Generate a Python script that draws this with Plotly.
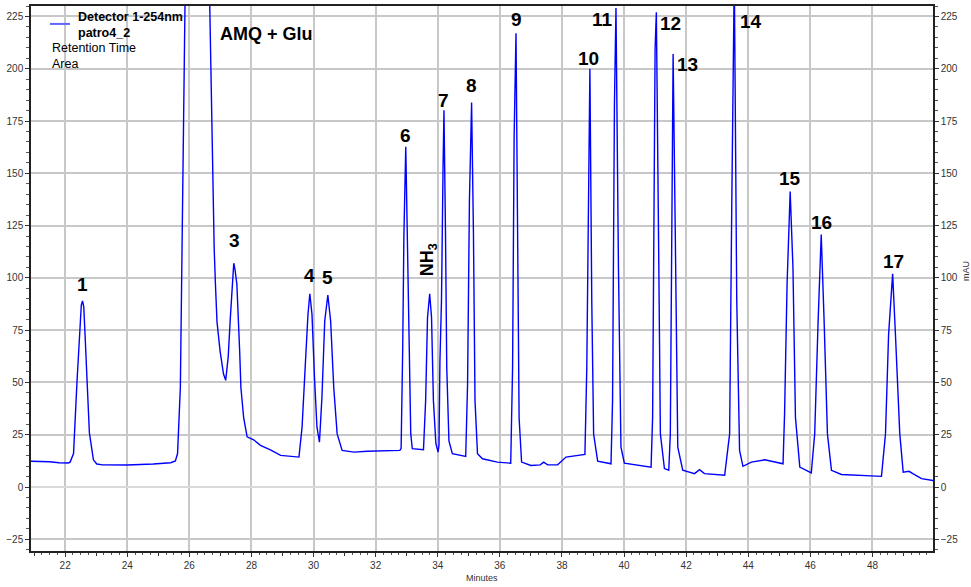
import plotly.graph_objects as go

# Chromatogram trace (minutes, mAU)
time_min = [20.90, 21.50, 21.80, 22.10, 22.16, 22.27, 22.38, 22.46, 22.52, 22.56, 22.60, 22.64, 22.70, 22.78, 22.91,
            23.02, 23.20, 24.00, 24.84, 25.40, 25.55, 25.62, 25.71, 25.80, 25.84, 25.90, 26.10, 26.40, 26.62, 26.71,
            26.76, 26.80, 26.84, 26.89, 26.99, 27.10, 27.17, 27.25, 27.32, 27.40, 27.43, 27.47, 27.53, 27.62, 27.66,
            27.75, 27.86, 28.07, 28.29, 28.61, 28.94, 29.53, 29.63, 29.74, 29.82, 29.88, 29.95, 30.03, 30.11, 30.19,
            30.27, 30.36, 30.46, 30.55, 30.65, 30.76, 30.92, 31.30, 31.73, 32.78, 32.82, 32.87, 32.91, 32.97, 33.02,
            33.08, 33.13, 33.18, 33.54, 33.61, 33.67, 33.74, 33.80, 33.86, 33.94, 34.01, 34.04, 34.07, 34.12, 34.17,
            34.20, 34.25, 34.29, 34.36, 34.47, 34.90, 34.96, 35.02, 35.09, 35.15, 35.20, 35.28, 35.44, 35.92, 36.35,
            36.41, 36.46, 36.52, 36.57, 36.62, 36.70, 37.00, 37.30, 37.41, 37.54, 37.86, 38.13, 38.61, 38.74, 38.80,
            38.87, 38.90, 38.96, 39.02, 39.15, 39.58, 39.63, 39.69, 39.74, 39.82, 39.90, 40.01, 40.87, 40.92, 41.00,
            41.04, 41.11, 41.17, 41.30, 41.44, 41.49, 41.53, 41.58, 41.65, 41.73, 41.89, 42.27, 42.43, 42.59, 43.24,
            43.40, 43.47, 43.55, 43.63, 43.72, 43.83, 44.10, 44.53, 44.90, 45.12, 45.17, 45.25, 45.35, 45.44, 45.52,
            45.66, 46.03, 46.14, 46.25, 46.35, 46.44, 46.55, 46.68, 47.00, 48.29, 48.42, 48.52, 48.65, 48.74, 48.88,
            48.99, 49.18, 49.30, 49.58, 50.00]
absorbance_mau = [12.3, 12.1, 11.6, 11.5, 11.9, 16, 50, 75.5, 87, 89, 86, 73, 50, 26, 13,
                  11, 10.6, 10.5, 11.0, 11.6, 12.5, 16, 47.6, 152, 192, 280, 420, 380, 260, 176,
                  136.5, 114, 97, 79, 65, 54, 51, 62, 81, 104, 107, 104, 97, 65, 47.6,
                  33, 24, 22.6, 19.9, 17.8, 15.1, 14.3, 28.6, 60, 82.5, 92.4, 82.5, 52.4, 28.6, 21.4,
                  42.9, 79.4, 91.8, 79.4, 47.6, 25.4, 17.5, 16.7, 17.1, 17.5, 18.5, 65, 120.7, 162.7, 120.7,
                  65, 25.5, 18.3, 17.8, 41.3, 81, 92.4, 81, 41.3, 20.7, 16.7, 20, 60, 89, 152,
                  180.2, 120.7, 57, 22, 15.9, 14.6, 49, 136.5, 183.8, 120.7, 41.3, 15.9, 13.5, 11.9, 11.4,
                  57, 168, 217, 124, 33, 11.9, 10.3, 10.6, 11.9, 10.6, 10.6, 14.3, 15.1, 15.6, 57,
                  174.6, 200, 89, 25.4, 12.4, 11.1, 41.3, 182.6, 229, 104.8, 19, 11.4, 9.5, 33.3, 209.5,
                  227, 120.7, 25.4, 8.8, 8, 25.4, 127, 207, 120.7, 19, 8, 6.4, 8.3, 6.4, 5.6,
                  25.4, 136.5, 245, 89, 17.5, 9.9, 11.9, 13, 12, 11.1, 35, 96.9, 141.3, 104.8, 33.3,
                  9.5, 6.7, 25.4, 79.4, 120.7, 81, 25.4, 8, 6, 5.1, 25.4, 73, 101.9, 73, 25.4,
                  7.1, 7.5, 6.4, 4, 3]

# Peak labels
peak_labels = ["1", "3", "4", "5", "6", "7", "8", "9", "10", "11", "12", "13", "14", "15", "16", "17"]
peak_label_t = [22.55, 27.45, 29.87, 30.45, 32.97, 34.19, 35.10, 36.52, 38.87, 39.29, 41.48, 42.03, 44.10, 45.35, 46.35, 48.68]
peak_label_v = [97, 118, 101, 100, 168, 184.6, 191.8, 223.7, 205, 223.7, 221.8, 202.2, 222.7, 147.5, 126.5, 108]

x_range = [20.9, 49.95]
y_range = [-30.6, 230]

line_blue = "#0000ff"
grid_col = "#c8c8c8"
tick_font = dict(family="Arial", size=10, color="#333333")

fig = go.Figure()
fig.add_trace(go.Scatter(x=time_min, y=absorbance_mau, mode="lines",
                         line=dict(color=line_blue, width=1.4), showlegend=False, hoverinfo="skip"))
# invisible trace to anchor the mirrored axes (right y axis, odd-minute ticks)
fig.add_trace(go.Scatter(x=time_min, y=absorbance_mau, mode="lines", xaxis="x2", yaxis="y2",
                         line=dict(color="rgba(0,0,0,0)", width=0), showlegend=False, hoverinfo="skip"))

annotations = []
for lab, t, v in zip(peak_labels, peak_label_t, peak_label_v):
    annotations.append(dict(x=t, y=v, xref="x", yref="y", text="<b>" + lab + "</b>", showarrow=False,
                            font=dict(family="Arial", size=19, color="black"), xanchor="center", yanchor="middle"))
annotations.append(dict(x=33.71, y=108.8, xref="x", yref="y", text="<b>NH<sub>3</sub></b>", showarrow=False,
                        textangle=-90, font=dict(family="Arial", size=18, color="black")))
annotations.append(dict(x=28.48, y=216.5, xref="x", yref="y", text="<b>AMQ + Glu</b>", showarrow=False,
                        font=dict(family="Arial", size=18, color="black")))

W, H = 971, 587
L, R, T, B = 31, 38, 4, 36
pw, ph = W - L - R, H - T - B


def px_to_paper(px, py):
    return (px - L) / pw, 1 - (py - T) / ph


legend_lines = [("<b>Detector 1-254nm</b>", 76, 15), ("<b>patro4_2</b>", 76, 31),
                ("Retention Time", 50, 46), ("Area", 50, 62)]
for text, px, py in legend_lines:
    xp, yp = px_to_paper(px, py)
    annotations.append(dict(x=xp, y=yp, xref="paper", yref="paper", text=text, showarrow=False,
                            xanchor="left", yanchor="middle", font=dict(family="Arial", size=12.5, color="black")))

xp, yp = px_to_paper(482, 578)
annotations.append(dict(x=xp, y=yp, xref="paper", yref="paper", text="Minutes",
                        showarrow=False, font=dict(family="Arial", size=9, color="#333333"),
                        xanchor="center", yanchor="middle"))
xp, yp = px_to_paper(966, 270)
annotations.append(dict(x=xp, y=yp, xref="paper", yref="paper", text="mAU",
                        showarrow=False, textangle=-90, font=dict(family="Arial", size=9, color="#333333"),
                        xanchor="center", yanchor="middle"))

x0, y0 = px_to_paper(50, 22)
x1, _ = px_to_paper(70, 22)
shapes = [dict(type="line", xref="paper", yref="paper", x0=x0, x1=x1, y0=y0, y1=y0,
               line=dict(color="#6464ff", width=2))]

fig.update_layout(
    width=W, height=H,
    margin=dict(l=L, r=R, t=T, b=B),
    paper_bgcolor="white", plot_bgcolor="white",
    annotations=annotations, shapes=shapes,
    xaxis=dict(range=x_range, dtick=2, tick0=0, showgrid=True, gridcolor=grid_col, gridwidth=1.5,
               zeroline=False, showline=True, linecolor="#222222", linewidth=1.5, mirror=True,
               ticks="outside", ticklen=4, tickcolor="#333333", tickfont=tick_font,
               minor=dict(dtick=0.25, tick0=0, ticks="outside", ticklen=2, tickcolor="#555555", showgrid=False)),
    xaxis2=dict(range=x_range, overlaying="x", side="bottom", matches="x", tickmode="array",
                tickvals=list(range(21, 51, 2)), showticklabels=False, ticks="outside", ticklen=4,
                tickcolor="#333333", showgrid=False, zeroline=False, showline=False),
    yaxis=dict(range=y_range, dtick=25, tick0=0, showgrid=True, gridcolor=grid_col, gridwidth=1.5,
               zeroline=True, zerolinecolor="#d9d9d9", zerolinewidth=2,
               showline=True, linecolor="#222222", linewidth=1.5, mirror=True,
               ticks="outside", ticklen=4, tickcolor="#333333", tickfont=tick_font,
               minor=dict(dtick=5, tick0=0, ticks="outside", ticklen=3, tickcolor="#555555", showgrid=False)),
    yaxis2=dict(range=y_range, overlaying="y", side="right", matches="y", dtick=25, tick0=0,
                showgrid=False, zeroline=False, showline=True, linecolor="#222222", linewidth=1.5,
                ticks="outside", ticklen=4, tickcolor="#333333", tickfont=tick_font,
                minor=dict(dtick=5, tick0=0, ticks="outside", ticklen=3, tickcolor="#555555")),
)

fig.write_html("out.html")
